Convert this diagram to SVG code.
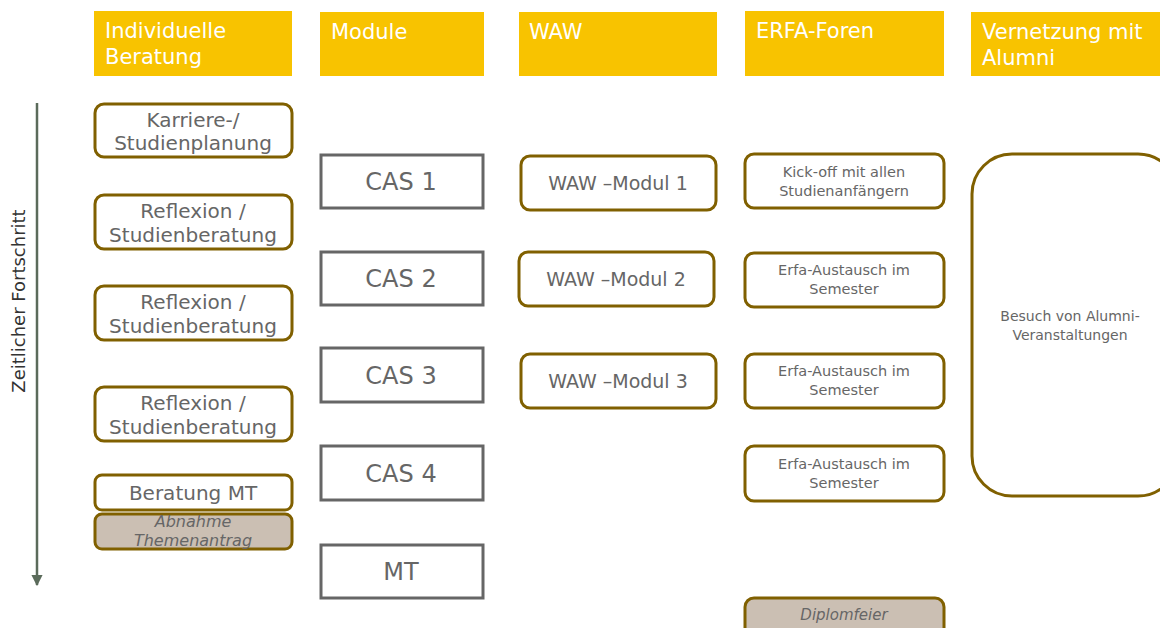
<svg xmlns="http://www.w3.org/2000/svg" width="1160" height="628" viewBox="0 0 1160 628">
<defs>
<style>
.hdr{fill:#F8C300}
.ht{font-family:"DejaVu Sans",sans-serif;font-size:21px;fill:#ffffff}
.rb{fill:#ffffff;stroke:#806000;stroke-width:3}
.rg{fill:#CBBFB3;stroke:#806000;stroke-width:3}
.sq{fill:#ffffff;stroke:#666666;stroke-width:3}
.t{font-family:"DejaVu Sans",sans-serif;fill:#666666;text-anchor:middle}
.t20{font-size:20px}
.t24{font-size:24px}
.t18{font-size:19px}
.t14{font-size:14.5px}
.it{font-style:italic}
</style>
<marker id="ah" viewBox="0 0 10 10" refX="9" refY="5" markerWidth="4.5" markerHeight="4.5" orient="auto">
<path d="M0,0 L10,5 L0,10 z" fill="#5B6B5B"/>
</marker>
</defs>
<rect width="1160" height="628" fill="#ffffff"/>

<g id="connectors">
<line x1="37" y1="103" x2="37" y2="585" stroke="#5B6B5B" stroke-width="2.5" marker-end="url(#ah)"/>
<text x="25" y="301" transform="rotate(-90 25 301)" font-family="DejaVu Sans, sans-serif" font-size="18" fill="#333333" text-anchor="middle">Zeitlicher Fortschritt</text>
</g>

<g id="h1"><rect class="hdr" x="94" y="11" width="198" height="65"/><text class="ht" x="105" y="38">Individuelle</text><text class="ht" x="105" y="64">Beratung</text></g>
<g id="h2"><rect class="hdr" x="320" y="12" width="164" height="64"/><text class="ht" x="331" y="39">Module</text></g>
<g id="h3"><rect class="hdr" x="519" y="12" width="198" height="64"/><text class="ht" x="529" y="39">WAW</text></g>
<g id="h4"><rect class="hdr" x="745" y="11" width="199" height="65"/><text class="ht" x="756" y="38">ERFA-Foren</text></g>
<g id="h5"><rect class="hdr" x="971" y="12" width="195" height="64"/><text class="ht" x="982" y="39">Vernetzung mit</text><text class="ht" x="982" y="65">Alumni</text></g>

<g id="n_karriere"><rect class="rb" x="95" y="104" width="197" height="53" rx="9"/><text class="t t20" x="193" y="127">Karriere-/</text><text class="t t20" x="193" y="150">Studienplanung</text></g>
<g id="n_ref1"><rect class="rb" x="95" y="195" width="197" height="54" rx="9"/><text class="t t20" x="193" y="218">Reflexion /</text><text class="t t20" x="193" y="242">Studienberatung</text></g>
<g id="n_ref2"><rect class="rb" x="95" y="286" width="197" height="54" rx="9"/><text class="t t20" x="193" y="309">Reflexion /</text><text class="t t20" x="193" y="333">Studienberatung</text></g>
<g id="n_ref3"><rect class="rb" x="95" y="387" width="197" height="54" rx="9"/><text class="t t20" x="193" y="410">Reflexion /</text><text class="t t20" x="193" y="434">Studienberatung</text></g>
<g id="n_bermt"><rect class="rb" x="95" y="475" width="197" height="35" rx="7"/><text class="t t20" x="193" y="500">Beratung MT</text></g>
<g id="n_abnahme"><rect class="rg" x="95" y="514" width="197" height="35" rx="7"/><text class="t it" font-size="16" x="193" y="527">Abnahme</text><text class="t it" font-size="16" x="193" y="546">Themenantrag</text></g>

<g id="n_cas1"><rect class="sq" x="321" y="155" width="162" height="53"/><text class="t t24" x="401" y="190">CAS 1</text></g>
<g id="n_cas2"><rect class="sq" x="321" y="252" width="162" height="53"/><text class="t t24" x="401" y="287">CAS 2</text></g>
<g id="n_cas3"><rect class="sq" x="321" y="348" width="162" height="54"/><text class="t t24" x="401" y="384">CAS 3</text></g>
<g id="n_cas4"><rect class="sq" x="321" y="446" width="162" height="54"/><text class="t t24" x="401" y="482">CAS 4</text></g>
<g id="n_mt"><rect class="sq" x="321" y="545" width="162" height="53"/><text class="t t24" x="401" y="580">MT</text></g>

<g id="n_waw1"><rect class="rb" x="521" y="156" width="195" height="54" rx="9"/><text class="t t18" x="618" y="190">WAW –Modul 1</text></g>
<g id="n_waw2"><rect class="rb" x="519" y="252" width="195" height="54" rx="9"/><text class="t t18" x="616" y="286">WAW –Modul 2</text></g>
<g id="n_waw3"><rect class="rb" x="521" y="354" width="195" height="54" rx="9"/><text class="t t18" x="618" y="388">WAW –Modul 3</text></g>

<g id="n_kick"><rect class="rb" x="745" y="154" width="199" height="54" rx="9"/><text class="t t14" x="844" y="177">Kick-off mit allen</text><text class="t t14" x="844" y="196">Studienanfängern</text></g>
<g id="n_erfa1"><rect class="rb" x="745" y="253" width="199" height="54" rx="9"/><text class="t t14" x="844" y="275">Erfa-Austausch im</text><text class="t t14" x="844" y="294">Semester</text></g>
<g id="n_erfa2"><rect class="rb" x="745" y="354" width="199" height="54" rx="9"/><text class="t t14" x="844" y="376">Erfa-Austausch im</text><text class="t t14" x="844" y="395">Semester</text></g>
<g id="n_erfa3"><rect class="rb" x="745" y="446" width="199" height="55" rx="9"/><text class="t t14" x="844" y="469">Erfa-Austausch im</text><text class="t t14" x="844" y="488">Semester</text></g>
<g id="n_diplom"><rect class="rg" x="745" y="598" width="199" height="45" rx="9"/><text class="t it" font-size="15" x="844" y="620">Diplomfeier</text></g>

<g id="n_alumni"><rect class="rb" x="972" y="154" width="206" height="342" rx="40"/><text class="t" font-size="14" x="1070" y="321">Besuch von Alumni-</text><text class="t" font-size="14" x="1070" y="340">Veranstaltungen</text></g>
</svg>
